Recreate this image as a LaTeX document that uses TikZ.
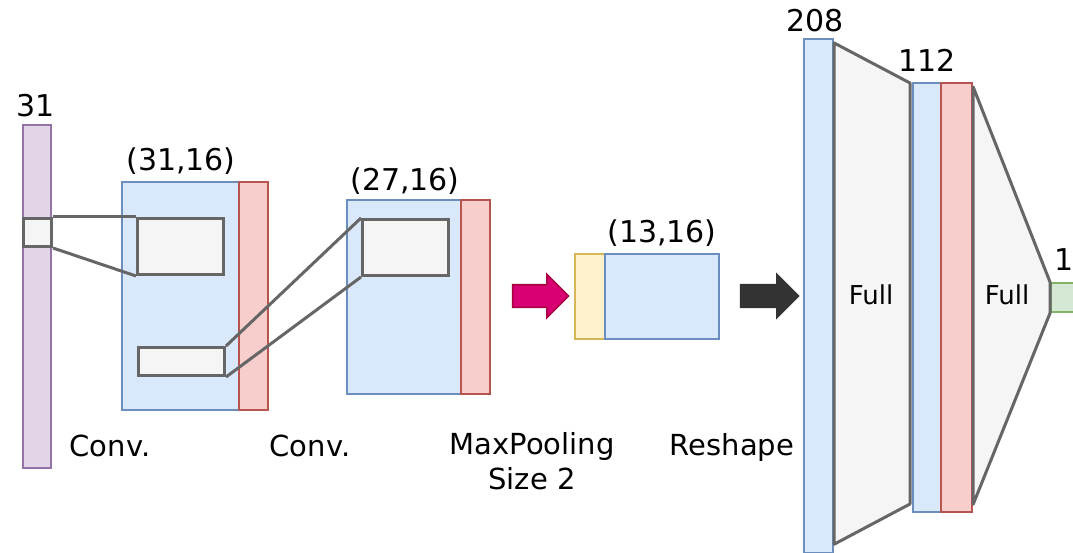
\documentclass[tikz,border=0pt]{standalone}
\usepackage{fontspec}
\setmainfont{DejaVu Sans}
\usetikzlibrary{shapes.arrows}

\definecolor{inputfill}{HTML}{E1D5E7}
\definecolor{inputline}{HTML}{9673A6}
\definecolor{featfill}{HTML}{DAE8FC}
\definecolor{featline}{HTML}{6C8EBF}
\definecolor{actfill}{HTML}{F8CECC}
\definecolor{actline}{HTML}{B85450}
\definecolor{kernfill}{HTML}{F5F5F5}
\definecolor{kernline}{HTML}{666666}
\definecolor{padfill}{HTML}{FFF2CC}
\definecolor{padline}{HTML}{D6B656}
\definecolor{outfill}{HTML}{D5E8D4}
\definecolor{outstroke}{HTML}{82B366}
\definecolor{poolfill}{HTML}{D80073}
\definecolor{poolline}{HTML}{A50040}
\definecolor{reshfill}{HTML}{333333}

\newcommand{\dimfont}{\fontsize{30}{36}\selectfont}
\newcommand{\opfont}{\fontsize{29}{35}\selectfont}
\newcommand{\fullfont}{\fontsize{26}{31}\selectfont}

\begin{document}
\begin{tikzpicture}
  [x=1pt, y=-1pt,
   block/.style={rectangle, draw, line width=2.2pt, inner sep=0pt, anchor=north west},
   input/.style={block, fill=inputfill, draw=inputline},
   feat/.style={block, fill=featfill, draw=featline},
   act/.style={block, fill=actfill, draw=actline},
   kern/.style={block, fill=kernfill, draw=kernline, line width=3pt},
   pad/.style={block, fill=padfill, draw=padline},
   result/.style={block, fill=outfill, draw=outstroke},
   link/.style={draw=kernline, line width=3pt},
   fan/.style={link, fill=kernfill, line join=round},
   bigarrow/.style={single arrow, inner sep=0pt, inner ysep=10.5pt,
                    single arrow head extend=10.5pt, line width=1.5pt},
   dim/.style={anchor=base, font=\dimfont, inner sep=0pt},
   op/.style={anchor=base, font=\opfont, inner sep=0pt, align=center},
   full/.style={font=\fullfont, inner sep=0pt}]
\path[use as bounding box] (0,0) rectangle (1073,553);
% input
\node at (22,124) (inp) [input, minimum width=28, minimum height=343] {};
\node at (36,117) (inp dim) [dim] {31};
\node at (22,217) (win a) [kern, minimum width=28, minimum height=28] {};
%
\node at (121,181) (c1) [feat, minimum width=117, minimum height=228] {};
\node at (238,181) (c1 act) [act, minimum width=29, minimum height=228] {};
\node at (181,171) (c1 dim) [dim] {(31,16)};
\node at (136,217) (win b) [kern, minimum width=86, minimum height=56] {};
\node at (137,346) (win c) [kern, minimum width=86, minimum height=28] {};
\draw [link] (win a.north east) -- (win b.north west);
\draw [link] (win a.south east) -- (win b.south west);
%
\node at (346,199) (c2) [feat, minimum width=114, minimum height=194] {};
\node at (460,199) (c2 act) [act, minimum width=29, minimum height=194] {};
\node at (405,191) (c2 dim) [dim] {(27,16)};
\node at (361,218) (win d) [kern, minimum width=86, minimum height=56] {};
\draw [link] (win c.north east) -- (win d.north west);
\draw [link] (win c.south east) -- (win d.south west);
% pooling
\node at (535,296) (pool arrow) [bigarrow, fill=poolfill, draw=poolline, minimum height=56] {};
\node at (574,253) (pad) [pad, minimum width=30, minimum height=85] {};
\node at (604,253) (pool) [feat, minimum width=114, minimum height=85] {};
\node at (662,243) (pool dim) [dim] {(13,16)};
% reshape
\node at (764,296) (resh arrow) [bigarrow, fill=reshfill, draw=reshfill, minimum height=58] {};
\node at (803,38) (flat) [feat, minimum width=29, minimum height=514] {};
\node at (815,32) (flat dim) [dim] {208};
% dense layers
\coordinate (fan a top) at (910,83);
\coordinate (fan a bot) at (910,504);
\draw [fan] ([yshift=-5]flat.north east) -- (fan a top) -- (fan a bot)
  -- ([yshift=10]flat.south east) -- cycle;
\node at (871,295) (fan a txt) [full] {Full};
\node at (912,82) (fc) [feat, minimum width=28, minimum height=429] {};
\node at (940,82) (fc act) [act, minimum width=31, minimum height=429] {};
\node at (927,72) (fc dim) [dim] {112};
\node at (1050,282) (res) [result, minimum width=30, minimum height=29] {};
\node at (1064,270) (res dim) [dim] {1};
\draw [fan] ([yshift=-5]fc act.north east) -- (res.north west) -- (res.south west)
  -- ([yshift=9]fc act.south east) -- cycle;
\node at (1007,295) (fan b txt) [full] {Full};
% operation labels
\node at (110,456) (c1 op) [op] {Conv.};
\node at (310,456) (c2 op) [op] {Conv.};
\node at (532,432) (pool op) [op, anchor=north] {MaxPooling\\Size 2};
\node at (732,455) (resh op) [op] {Reshape};
\end{tikzpicture}
\end{document}
